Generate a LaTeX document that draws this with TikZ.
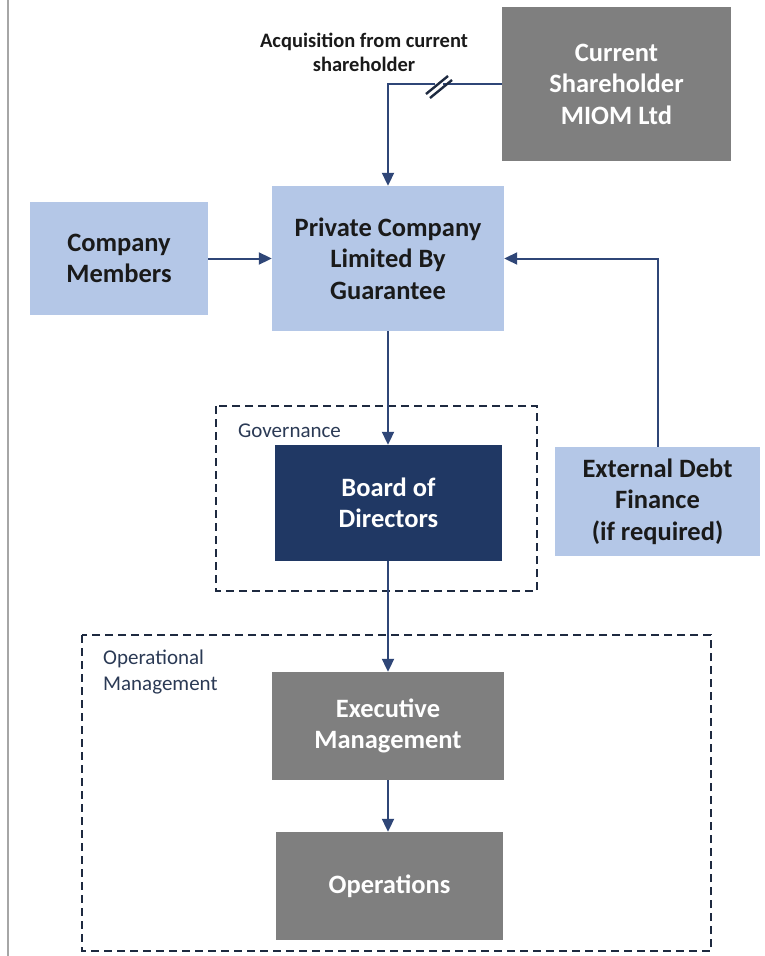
\documentclass[tikz,border=0pt]{standalone}
\usepackage{fontspec}
\setmainfont{Carlito}
\usetikzlibrary{arrows.meta,positioning}
\definecolor{lightblue}{HTML}{B4C7E7}
\definecolor{midgray}{HTML}{7F7F7F}
\definecolor{navy}{HTML}{203864}
\definecolor{linkblue}{HTML}{2F4677}
\definecolor{framecol}{HTML}{1E2A40}
\definecolor{textdark}{HTML}{1A1A1A}
\definecolor{labelcol}{HTML}{2B3A55}
\tikzset{
  box/.style={rectangle, inner sep=0pt, align=center,
    font=\fontsize{26.5}{31.5}\selectfont\bfseries},
  bluebox/.style={box, fill=lightblue, text=textdark},
  graybox/.style={box, fill=midgray, text=white},
  navybox/.style={box, fill=navy, text=white},
  link/.style={draw=linkblue, line width=2pt,
    -{Triangle[length=13pt,width=12pt]}},
  group/.style={draw=framecol, line width=2.2pt, dash pattern=on 8pt off 5pt},
  grouplabel/.style={anchor=north west, inner sep=0pt, align=left,
    text=labelcol, font=\fontsize{21}{26}\selectfont},
}
\begin{document}
\begin{tikzpicture}[x=1pt,y=-1pt]
\useasboundingbox (0,0) rectangle (764,956);
\fill[white] (0,0) rectangle (764,956);
% page edge on the left
\draw[draw=gray!70, line width=1.5pt] (8,0) -- (8,956);

% dashed grouping frames
\draw[group] (216,406) rectangle (537,591);
\draw[group] (82,635) rectangle (711,951);
\node[grouplabel] (govlbl) at (238,424) {Governance};
\node[grouplabel] (opmlbl) at (103,650) {Operational\\Management};

% boxes
\node[graybox, minimum width=229pt, minimum height=154pt] (sh) at (616.5,84)
  {Current\\Shareholder\\MIOM Ltd};
\node[bluebox, minimum width=232pt, minimum height=145pt] (pc) at (388,258.5)
  {Private Company\\Limited By\\Guarantee};
\node[bluebox, minimum width=178pt, minimum height=113pt] (cm) at (119,258.5)
  {Company\\Members};
\node[bluebox, minimum width=205pt, minimum height=109pt] (ed) at (657.5,501.5)
  {External Debt\\Finance\\(if required)};
\node[navybox, minimum width=227pt, minimum height=116pt] (bd) at (388.5,503)
  {Board of\\Directors};
\node[graybox, minimum width=232pt, minimum height=108pt] (em) at (388,726)
  {Executive\\Management};
\node[graybox, minimum width=227pt, minimum height=108pt] (op) at (389.5,886)
  {Operations};

% acquisition label
\node[align=center, inner sep=0pt, text=textdark,
  font=\fontsize{20.5}{24}\selectfont\bfseries] (acq) at (364,52)
  {Acquisition from current\\shareholder};

% connectors
\draw[link] (sh.west) -| (pc.north);
\coordinate (brk) at (439,84);
\fill[white] ([shift={(-4,-4)}]brk) rectangle ([shift={(4,4)}]brk);
\draw[draw=framecol, line width=2.4pt] ([shift={(-13,10)}]brk) -- ([shift={(9,-8)}]brk);
\draw[draw=framecol, line width=2.4pt] ([shift={(-9,14)}]brk) -- ([shift={(13,-4)}]brk);
\draw[link] (cm.east) -- (pc.west);
\draw[link] (ed.north) |- (pc.east);
\draw[link] (pc.south) -- (pc.south |- bd.north);
\draw[link] (bd.south -| em.north) -- (em.north);
\draw[link] (em.south) -- (em.south |- op.north);
\end{tikzpicture}
\end{document}
